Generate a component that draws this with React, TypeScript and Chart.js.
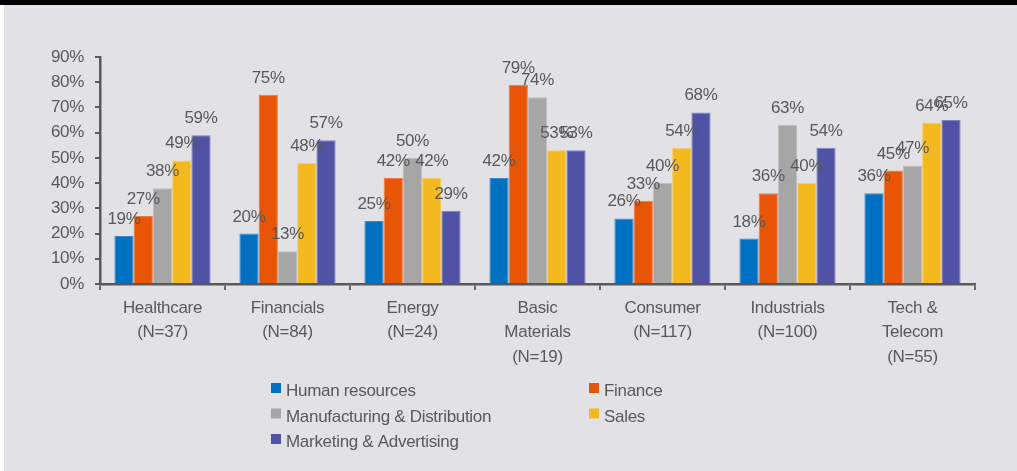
import React, { useEffect, useRef } from "react";
import { Chart, registerables } from "chart.js";

Chart.register(...registerables);

const categories: string[][] = [
  ["Healthcare", "(N=37)"],
  ["Financials", "(N=84)"],
  ["Energy", "(N=24)"],
  ["Basic", "Materials", "(N=19)"],
  ["Consumer", "(N=117)"],
  ["Industrials", "(N=100)"],
  ["Tech &", "Telecom", "(N=55)"],
];

const seriesNames = [
  "Human resources",
  "Finance",
  "Manufacturing & Distribution",
  "Sales",
  "Marketing & Advertising",
];

const humanResources = [19, 20, 25, 42, 26, 18, 36];
const finance = [27, 75, 42, 79, 33, 36, 45];
const manufacturing = [38, 13, 50, 74, 40, 63, 47];
const sales = [49, 48, 42, 53, 54, 40, 64];
const marketing = [59, 57, 29, 53, 68, 54, 65];

const seriesValues = [humanResources, finance, manufacturing, sales, marketing];
const seriesColors = ["#0070c0", "#e85504", "#a5a6a5", "#f5b920", "#5053a5"];
const seriesBorders = ["#3b8bd0", "#f07a45", "#bdbdbd", "#f8cc60", "#7e80c2"];

const yMin = 0;
const yMax = 90;
const yStep = 10;

const FONT = "'Liberation Sans', Arial, sans-serif";
const TEXT = "#595959";
const SPACING = "-0.3px";

const spacingPlugin = {
  id: "spacing",
  beforeLayout(chart: any) {
    chart.ctx.letterSpacing = SPACING;
  },
  beforeDraw(chart: any) {
    chart.ctx.letterSpacing = SPACING;
  },
};

const valueLabels = {
  id: "valueLabels",
  afterDatasetsDraw(chart: any) {
    const ctx = chart.ctx;
    ctx.save();
    ctx.font = `17px ${FONT}`;
    ctx.letterSpacing = SPACING;
    ctx.fillStyle = TEXT;
    ctx.textAlign = "center";
    ctx.textBaseline = "alphabetic";
    chart.data.datasets.forEach((ds: any, i: number) => {
      chart.getDatasetMeta(i).data.forEach((bar: any, j: number) => {
        ctx.fillText(ds.data[j] + "%", bar.x, bar.y - 12);
      });
    });
    ctx.restore();
  },
};

const legendPlugin = {
  id: "gridLegend",
  afterDraw(chart: any) {
    const ctx = chart.ctx;
    const cols = [271, 589];
    const rows = [396, 421.5, 447];
    ctx.save();
    ctx.font = `17px ${FONT}`;
    ctx.letterSpacing = SPACING;
    ctx.textAlign = "left";
    ctx.textBaseline = "alphabetic";
    chart.data.datasets.forEach((ds: any, i: number) => {
      const x = cols[i % 2];
      const b = rows[Math.floor(i / 2)];
      ctx.fillStyle = ds.backgroundColor;
      ctx.fillRect(x, b - 13, 10, 10);
      ctx.fillStyle = TEXT;
      ctx.fillText(ds.label, x + 15, b);
    });
    ctx.restore();
  },
};

export default function App() {
  const ref = useRef<HTMLCanvasElement>(null);

  useEffect(() => {
    if (!ref.current) return;
    const chart = new Chart(ref.current, {
      type: "bar",
      data: {
        labels: categories,
        datasets: seriesNames.map((name, i) => ({
          label: name,
          data: seriesValues[i],
          backgroundColor: seriesColors[i],
          borderColor: seriesBorders[i],
          borderWidth: 1,
          categoryPercentage: 0.77,
          barPercentage: 1,
        })),
      },
      options: {
        responsive: false,
        animation: false,
        layout: { padding: { top: 57, right: 42, left: 0, bottom: 0 } },
        plugins: {
          legend: { display: false },
          tooltip: { enabled: false },
        },
        scales: {
          x: {
            grid: {
              offset: true,
              drawOnChartArea: false,
              drawTicks: true,
              tickLength: 6,
              color: "#6a6a6a",
              lineWidth: 2,
            },
            border: { display: true, color: TEXT, width: 2.5 },
            ticks: {
              color: TEXT,
              font: { family: FONT, size: 17, lineHeight: 1.44 },
              padding: 6,
              maxRotation: 0,
              autoSkip: false,
            },
            afterFit: (s: any) => {
              s.height = 187;
            },
          },
          y: {
            min: yMin,
            max: yMax,
            ticks: {
              stepSize: yStep,
              callback: (v: any) => v + "%",
              color: TEXT,
              font: { family: FONT, size: 17 },
              padding: 11,
            },
            grid: {
              drawOnChartArea: false,
              drawTicks: true,
              tickLength: 5,
              color: TEXT,
              lineWidth: 2,
            },
            border: { display: true, color: TEXT, width: 2.5 },
            afterFit: (s: any) => {
              s.width = 100;
            },
          },
        },
      },
      plugins: [spacingPlugin, valueLabels, legendPlugin],
    });
    return () => chart.destroy();
  }, []);

  return (
    <div
      style={{
        position: "fixed",
        left: 0,
        top: 0,
        width: 1017,
        height: 471,
        background: "#e2e2e6",
        overflow: "hidden",
      }}
    >
      <div style={{ position: "absolute", left: 0, top: 0, width: 4, height: 471, background: "#ffffff" }} />
      <div style={{ position: "absolute", left: 0, top: 0, width: 1017, height: 5, background: "#000000" }} />
      <canvas
        ref={ref}
        width={1017}
        height={471}
        style={{ position: "absolute", left: 0, top: 0, width: 1017, height: 471 }}
      />
    </div>
  );
}
